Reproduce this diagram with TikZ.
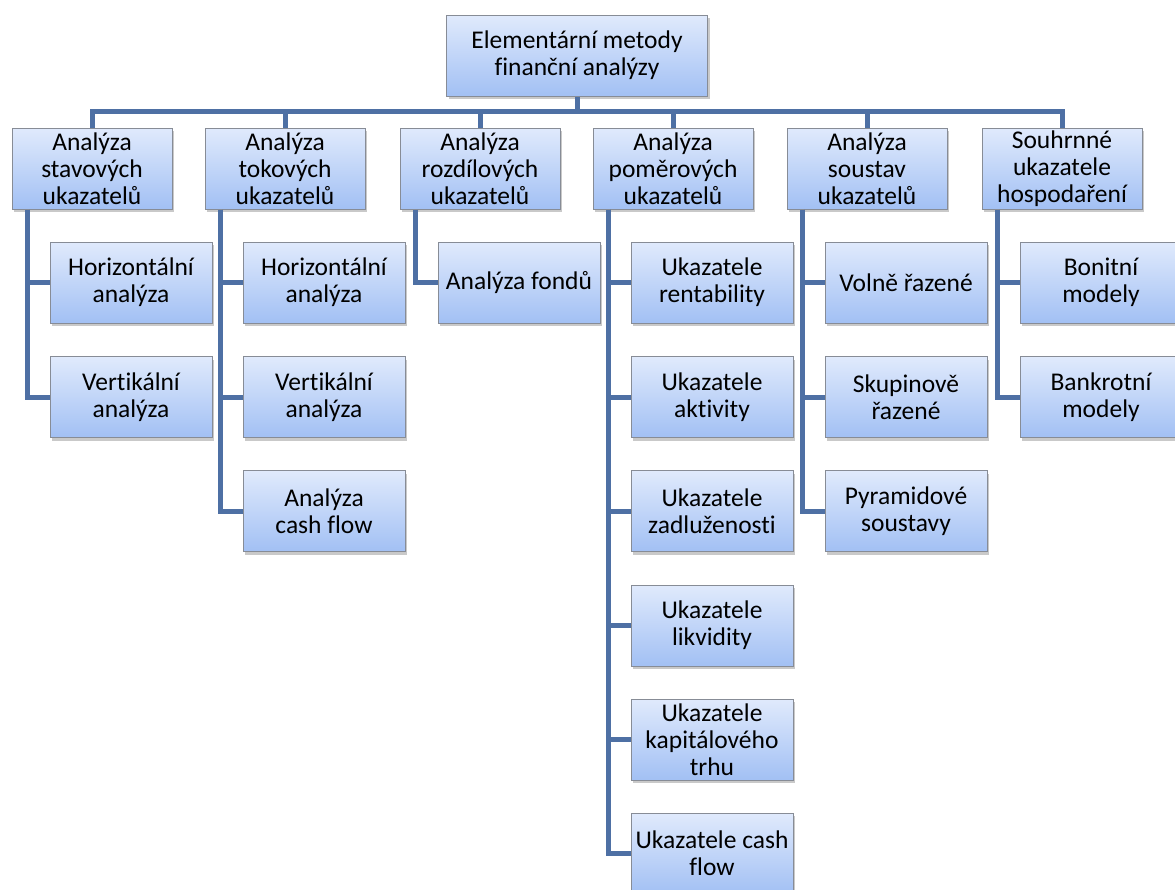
\documentclass[tikz,border=0pt]{standalone}
\usepackage{fontspec}
\setmainfont[Ligatures=NoCommon]{Carlito}
\usetikzlibrary{shadows}
\definecolor{boxtop}{RGB}{224,234,252}
\definecolor{boxbot}{RGB}{162,192,244}
\definecolor{boxedge}{RGB}{135,140,150}
\definecolor{conn}{RGB}{78,112,164}
\tikzset{
  box/.style={draw=boxedge, line width=1pt, top color=boxtop, bottom color=boxbot,
    minimum width=160pt, minimum height=81pt, inner sep=0pt, align=center,
    font=\fontsize{25.5}{27}\selectfont,
    drop shadow={shadow xshift=2pt, shadow yshift=-3pt, opacity=0.3, fill=black!70}},
  topbox/.style={box, minimum width=261pt},
  childbox/.style={box, minimum width=162pt},
  link/.style={draw=conn, line width=5pt},
}
\begin{document}
\begin{tikzpicture}[x=1pt,y=-1pt]
\useasboundingbox (0,0) rectangle (1175,889);
\clip (0,0) rectangle (1175,889);

\node[topbox] (top) at (577,55.5) {Elementární metody\\finanční analýzy};

\node[box] (a1) at (92,168.5)   {Analýza\\stavových\\ukazatelů};
\node[box] (a2) at (285,168.5)  {Analýza\\tokových\\ukazatelů};
\node[box] (a3) at (480,168.5)  {Analýza\\rozdílových\\ukazatelů};
\node[box] (a4) at (673,168.5)  {Analýza\\poměrových\\ukazatelů};
\node[box] (a5) at (867,168.5)  {Analýza\\soustav\\ukazatelů};
\node[box] (a6) at (1062,168.5) {Souhrnné\\ukazatele\\hospodaření};

% children
\node[childbox] (a1c1) at (131,282.5) {Horizontální\\analýza};
\node[childbox] (a1c2) at (131,397)   {Vertikální\\analýza};

\node[childbox] (a2c1) at (324,282.5) {Horizontální\\analýza};
\node[childbox] (a2c2) at (324,397)   {Vertikální\\analýza};
\node[childbox] (a2c3) at (324,511)   {Analýza\\cash flow};

\node[childbox] (a3c1) at (519,282.5) {Analýza fondů};

\node[childbox] (a4c1) at (712,282.5) {Ukazatele\\rentability};
\node[childbox] (a4c2) at (712,397)   {Ukazatele\\aktivity};
\node[childbox] (a4c3) at (712,511)   {Ukazatele\\zadluženosti};
\node[childbox] (a4c4) at (712,625.5) {Ukazatele\\likvidity};
\node[childbox] (a4c5) at (712,739.5) {Ukazatele\\kapitálového\\trhu};
\node[childbox] (a4c6) at (712,853.5) {Ukazatele cash\\flow};

\node[childbox] (a5c1) at (906,282.5) {Volně řazené};
\node[childbox] (a5c2) at (906,397)   {Skupinově\\řazené};
\node[childbox] (a5c3) at (906,511)   {Pyramidové\\soustavy};

\node[childbox] (a6c1) at (1101,282.5) {Bonitní\\modely};
\node[childbox] (a6c2) at (1101,397)   {Bankrotní\\modely};

% top-level connectors
\draw[link] (top.south) -- ([yshift=16pt]top.south |- a1.north);
\draw[link] (a1.north) -- ++(0,-16) -| (a6.north);
\foreach \n in {a2,a3,a4,a5} \draw[link] (\n.north) -- ++(0,-16);

% child connectors
\foreach \p/\cs in {a1/{a1c1,a1c2}, a2/{a2c1,a2c2,a2c3}, a3/{a3c1},
                    a4/{a4c1,a4c2,a4c3,a4c4,a4c5,a4c6}, a5/{a5c1,a5c2,a5c3},
                    a6/{a6c1,a6c2}}{
  \foreach \c in \cs {
    \draw[link] ([xshift=16pt]\p.south west) |- (\c.west);
  }
}
\end{tikzpicture}
\end{document}
